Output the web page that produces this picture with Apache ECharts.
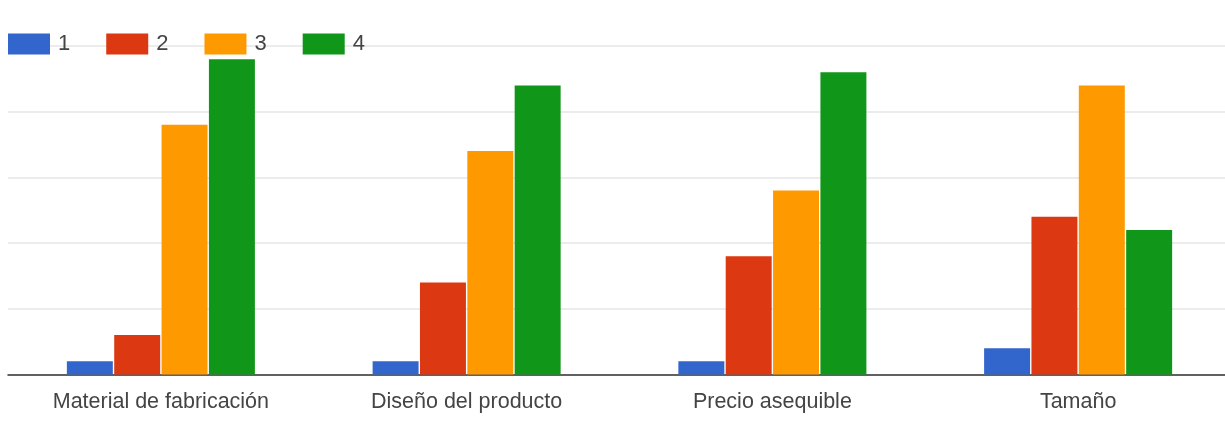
<!DOCTYPE html>
<html><head><meta charset="utf-8">
<script src="https://cdn.jsdelivr.net/npm/echarts@6/dist/echarts.min.js"></script>
<style>html,body{margin:0;padding:0;background:#fff}#c{width:1225px;height:441px}</style>
</head><body><div id="c"></div>
<script>
const categories = ['Material de fabricación', 'Diseño del producto', 'Precio asequible', 'Tamaño'];
const seriesNames = ['1', '2', '3', '4'];
const s1 = [1, 1, 1, 2];
const s2 = [3, 7, 9, 12];
const s3 = [19, 17, 14, 22];
const s4 = [24, 22, 23, 11];
const colors = ['#3366cc', '#dc3912', '#ff9900', '#109618'];
const values = [s1, s2, s3, s4];

const FONT = 'Liberation Sans, Arial, sans-serif';
const chart = echarts.init(document.getElementById('c'));
chart.setOption({
  animation: false,
  textStyle: { fontFamily: FONT },
  legend: {
    left: 8, top: 33, padding: 0,
    itemWidth: 42, itemHeight: 21, itemGap: 36,
    icon: 'rect',
    textStyle: { fontSize: 22, color: '#444', fontFamily: FONT, padding: [3, 0, 0, 3] },
    data: seriesNames
  },
  grid: { left: 8, width: 1223, top: 46, bottom: 66.5, containLabel: false, outerBoundsMode: 'none' },
  xAxis: {
    type: 'category', data: categories,
    axisLine: { lineStyle: { color: '#333', width: 1.5 } },
    axisTick: { show: false },
    axisLabel: { fontSize: 21.5, color: '#444', margin: 17, fontFamily: FONT }
  },
  yAxis: {
    type: 'value', min: 0, max: 25, interval: 5,
    axisLabel: { show: false }, axisLine: { show: false }, axisTick: { show: false },
    splitLine: { lineStyle: { color: '#e6e6e6', width: 1.5 } }
  },
  series: seriesNames.map((n, i) => ({
    name: n, type: 'bar', data: values[i],
    barGap: '3%', barCategoryGap: '38.5%',
    itemStyle: { color: colors[i] }
  }))
});
</script></body></html>
